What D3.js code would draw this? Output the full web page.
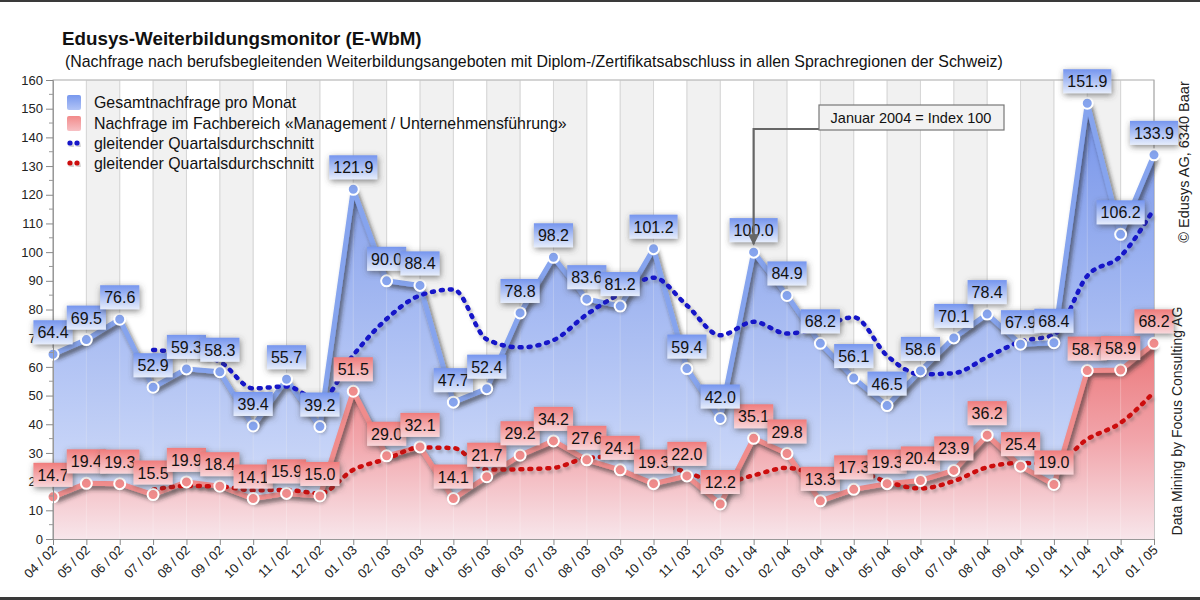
<!DOCTYPE html>
<html><head><meta charset="utf-8">
<script src="https://cdn.jsdelivr.net/npm/d3@7"></script>
<style>body{margin:0;background:#fff} svg{display:block;font-family:"Liberation Sans",Arial,sans-serif}</style>
</head><body><svg id="c" width="1200" height="600"></svg>
<script>
const months = ["04 / 02","05 / 02","06 / 02","07 / 02","08 / 02","09 / 02","10 / 02","11 / 02","12 / 02","01 / 03","02 / 03","03 / 03","04 / 03","05 / 03","06 / 03","07 / 03","08 / 03","09 / 03","10 / 03","11 / 03","12 / 03","01 / 04","02 / 04","03 / 04","04 / 04","05 / 04","06 / 04","07 / 04","08 / 04","09 / 04","10 / 04","11 / 04","12 / 04","01 / 05"];
const total = [64.4,69.5,76.6,52.9,59.3,58.3,39.4,55.7,39.2,121.9,90.0,88.4,47.7,52.4,78.8,98.2,83.6,81.2,101.2,59.4,42.0,100.0,84.9,68.2,56.1,46.5,58.6,70.1,78.4,67.9,68.4,151.9,106.2,133.9];
const mgmt = [14.7,19.4,19.3,15.5,19.9,18.4,14.1,15.9,15.0,51.5,29.0,32.1,14.1,21.7,29.2,34.2,27.6,24.1,19.3,22.0,12.2,35.1,29.8,13.3,17.3,19.3,20.4,23.9,36.2,25.4,19.0,58.7,58.9,68.2];
const totalAvg = [null,null,null,65.9,64.6,61.8,52.5,53.2,48.2,64.1,76.7,84.9,87.0,69.6,66.8,69.3,78.3,85.5,91.1,81.4,71.0,75.7,71.6,73.8,77.3,63.9,57.4,57.8,63.4,68.8,71.2,91.7,98.6,115.1];
const mgmtAvg = [null,null,null,17.2,18.5,18.3,17.0,17.1,15.9,24.1,27.9,31.9,31.7,24.2,24.3,24.8,28.2,28.8,26.3,23.3,19.4,22.2,24.8,22.6,23.9,19.9,17.6,20.2,25.0,26.5,26.1,34.8,40.5,51.2];
const yTicks = d3.range(0, 161, 10);
const title = "Edusys-Weiterbildungsmonitor (E-WbM)";
const subtitle = "(Nachfrage nach berufsbegleitenden Weiterbildungsangeboten mit Diplom-/Zertifikatsabschluss in allen Sprachregionen der Schweiz)";
const legendItems = ["Gesamtnachfrage pro Monat","Nachfrage im Fachbereich «Management / Unternehmensführung»","gleitender Quartalsdurchschnitt","gleitender Quartalsdurchschnitt"];
const annotation = "Januar 2004 = Index 100";

const svg = d3.select("#c");
const L = 53, R = 1154, T = 80, B = 539;
const x = d3.scalePoint().domain(months).range([L, R]);
const y = d3.scaleLinear().domain([0, 160]).range([B, T]);

const defs = svg.append("defs");
function lin(id, stops, units, y1, y2) {
  const g = defs.append("linearGradient").attr("id", id).attr("x1", 0).attr("x2", 0);
  if (units) g.attr("gradientUnits", "userSpaceOnUse").attr("y1", y1).attr("y2", y2);
  else g.attr("y1", 0).attr("y2", 1);
  stops.forEach(s => g.append("stop").attr("offset", s[0]).attr("stop-color", s[1]));
}
lin("gBlueArea", [[0, "#6486e8"], [0.45, "#96aef0"], [1, "#d6e0fa"]], true, T, B);
lin("gRedArea", [[0, "#ee7272"], [0.5, "#f4a2a6"], [1, "#f9e6ea"]], true, y(70), B);
lin("gBlueBox", [[0, "#7595ee"], [1, "#e6edfc"]]);
lin("gRedBox", [[0, "#f07c7c"], [1, "#f8d6da"]]);
lin("gBlueSw", [[0, "#7898ee"], [1, "#b2c4f6"]]);
lin("gRedSw", [[0, "#f28a8a"], [1, "#f7c0c4"]]);
const f1 = defs.append("filter").attr("id", "shLine").attr("x", "-10%").attr("y", "-10%").attr("width", "120%").attr("height", "130%");
f1.append("feDropShadow").attr("dx", 2.5).attr("dy", 3.5).attr("stdDeviation", 2).attr("flood-color", "#222").attr("flood-opacity", 0.65);
const f2 = defs.append("filter").attr("id", "shBox").attr("x", "-40%").attr("y", "-60%").attr("width", "180%").attr("height", "220%");
f2.append("feDropShadow").attr("dx", 1).attr("dy", 2).attr("stdDeviation", 3).attr("flood-color", "#444").attr("flood-opacity", 0.65);
const f3 = defs.append("filter").attr("id", "shDot").attr("x", "-10%").attr("y", "-10%").attr("width", "120%").attr("height", "130%");
f3.append("feDropShadow").attr("dx", 2).attr("dy", 3).attr("stdDeviation", 1.5).attr("flood-color", "#555").attr("flood-opacity", 0.35);
const mk = defs.append("marker").attr("id", "arr").attr("viewBox", "0 0 10 10").attr("refX", 9).attr("refY", 5)
  .attr("markerWidth", 5).attr("markerHeight", 5).attr("orient", "auto").attr("markerUnits", "strokeWidth");
mk.append("path").attr("d", "M0,0L10,5L0,10Z").attr("fill", "#666");

// frame lines
svg.append("rect").attr("x", 0).attr("y", 0).attr("width", 1200).attr("height", 2).attr("fill", "#3a3a3a");
svg.append("rect").attr("x", 0).attr("y", 597).attr("width", 1200).attr("height", 3).attr("fill", "#3a3a3a");

// titles
svg.append("text").attr("x", 62).attr("y", 45).attr("font-size", 18.8).attr("font-weight", "bold").attr("fill", "#111").text(title);
svg.append("text").attr("x", 65).attr("y", 67).attr("font-size", 15.9).attr("fill", "#111").text(subtitle);

// stripes & grid
const plot = svg.append("g");
for (let i = 0; i < months.length - 1; i++) {
  if (i % 2 === 1) plot.append("rect").attr("x", x(months[i])).attr("y", T).attr("width", x(months[i + 1]) - x(months[i])).attr("height", B - T).attr("fill", "#f1f1f1");
}
plot.selectAll("line.g").data(months).join("line").attr("x1", d => x(d)).attr("x2", d => x(d)).attr("y1", T).attr("y2", B).attr("stroke", "#c9c9c9").attr("stroke-width", 1);
plot.append("rect").attr("x", L).attr("y", T).attr("width", R - L).attr("height", B - T).attr("fill", "none").attr("stroke", "#aaa");

// areas
const area = d3.area().x((d, i) => x(months[i])).y0(B).y1(d => y(d));
plot.append("path").datum(total).attr("d", area).attr("fill", "url(#gBlueArea)").attr("opacity", 0.9);
plot.append("path").datum(mgmt).attr("d", area).attr("fill", "url(#gRedArea)").attr("opacity", 0.95);
plot.selectAll("line.g2").data(months.slice(1, -1)).join("line").attr("x1", d => x(d)).attr("x2", d => x(d)).attr("y1", T).attr("y2", B).attr("stroke", "#fff").attr("stroke-opacity", 0.25);

// axes
const yAxis = d3.axisLeft(y).tickValues(yTicks).tickSize(7).tickPadding(3).tickFormat(d3.format("d"));
const ga = svg.append("g").attr("transform", `translate(${L},0)`).call(yAxis);
ga.select(".domain").attr("stroke", "#999");
ga.selectAll(".tick line").attr("stroke", "#888");
ga.selectAll("text").attr("font-size", 13).attr("fill", "#222").attr("font-family", "Liberation Sans, Arial, sans-serif");
svg.append("g").selectAll("line").data(d3.range(5, 160, 10)).join("line").attr("x1", L - 4).attr("x2", L).attr("y1", d => y(d)).attr("y2", d => y(d)).attr("stroke", "#999");
const xAxis = d3.axisBottom(x).tickSize(6).tickSizeOuter(0);
const gx = svg.append("g").attr("transform", `translate(0,${B})`).call(xAxis);
gx.select(".domain").attr("stroke", "#999");
gx.selectAll(".tick line").attr("stroke", "#888");
gx.selectAll("text").attr("font-size", 13).attr("fill", "#222").attr("font-family", "Liberation Sans, Arial, sans-serif")
  .attr("text-anchor", "end").attr("dy", null).attr("y", 0).attr("transform", "translate(4,12) rotate(-45)");

// data lines
const line = d3.line().x((d, i) => x(months[i])).y(d => y(d));
plot.append("path").datum(total).attr("d", line).attr("fill", "none").attr("stroke", "#86a4ee").attr("stroke-width", 5).attr("stroke-linejoin", "round").attr("filter", "url(#shLine)");
plot.append("path").datum(mgmt).attr("d", line).attr("fill", "none").attr("stroke", "#f08c8c").attr("stroke-width", 5).attr("stroke-linejoin", "round").attr("filter", "url(#shLine)");

// moving averages
const avgLine = d3.line().defined(d => d != null).x((d, i) => x(months[i])).y(d => y(d)).curve(d3.curveMonotoneX);
plot.append("path").datum(totalAvg).attr("d", avgLine).attr("fill", "none").attr("stroke", "#1212c8").attr("stroke-width", 4.5).attr("stroke-linecap", "round").attr("stroke-dasharray", "2 7").attr("filter", "url(#shDot)");
plot.append("path").datum(mgmtAvg).attr("d", avgLine).attr("fill", "none").attr("stroke", "#cc0a0a").attr("stroke-width", 4.5).attr("stroke-linecap", "round").attr("stroke-dasharray", "2 7").attr("filter", "url(#shDot)");

// points
function pts(data, fill) {
  plot.append("g").selectAll("circle").data(data).join("circle").attr("cx", (d, i) => x(months[i])).attr("cy", d => y(d)).attr("r", 5.5)
    .attr("fill", fill).attr("stroke", "#fff").attr("stroke-width", 2);
}
pts(total, "#86a4ee");
pts(mgmt, "#f08c8c");

// labels
function labels(data, grad) {
  const g = svg.append("g");
  data.forEach((v, i) => {
    const cx = x(months[i]), cy = y(v) - 22;
    const t = v.toFixed(1);
    const lg = g.append("g");
    const txt = lg.append("text").attr("x", cx).attr("y", cy + 6).attr("text-anchor", "middle").attr("font-size", 16).attr("fill", "#111").text(t);
    const w = txt.node().getComputedTextLength() + 8;
    lg.insert("rect", "text").attr("x", cx - w / 2).attr("y", cy - 12).attr("width", w).attr("height", 24).attr("fill", grad).attr("filter", "url(#shBox)");
  });
}
labels(mgmt, "url(#gRedBox)");
labels(total, "url(#gBlueBox)");

// legend
const lgd = svg.append("g");
const rows = [102, 123, 143, 163];
lgd.append("rect").attr("x", 67).attr("y", rows[0] - 7).attr("width", 14).attr("height", 15).attr("rx", 2).attr("fill", "url(#gBlueSw)");
lgd.append("rect").attr("x", 67).attr("y", rows[1] - 7).attr("width", 14).attr("height", 15).attr("rx", 2).attr("fill", "url(#gRedSw)");
[["#1212c8", rows[2]], ["#cc0a0a", rows[3]]].forEach(([c, ry]) => {
  [70, 77].forEach(cx => lgd.append("circle").attr("cx", cx).attr("cy", ry).attr("r", 2.6).attr("fill", c).attr("filter", "url(#shDot)"));
});
lgd.selectAll("text").data(legendItems).join("text").attr("x", 94).attr("y", (d, i) => rows[i] + 6).attr("font-size", 15.9).attr("fill", "#111").text(d => d);

// annotation
const ax = x("01 / 04");
svg.append("path").attr("d", `M819,129 H${ax} V${y(100) - 8}`).attr("fill", "none").attr("stroke", "#666").attr("stroke-width", 2.2).attr("marker-end", "url(#arr)");
svg.append("rect").attr("x", 819).attr("y", 105).attr("width", 185).attr("height", 25).attr("fill", "#f2f2f2").attr("stroke", "#777").attr("stroke-width", 1.2);
svg.append("text").attr("x", 911).attr("y", 122.5).attr("text-anchor", "middle").attr("font-size", 14.5).attr("fill", "#111").text(annotation);

// side credits
svg.append("text").attr("transform", "translate(1189,162) rotate(-90)").attr("text-anchor", "middle").attr("font-size", 14.5).attr("fill", "#222").text("© Edusys AG, 6340 Baar");
svg.append("text").attr("transform", "translate(1182,421) rotate(-90)").attr("text-anchor", "middle").attr("font-size", 14).attr("fill", "#222").text("Data Mining by Focus Consulting AG");
</script></body></html>
